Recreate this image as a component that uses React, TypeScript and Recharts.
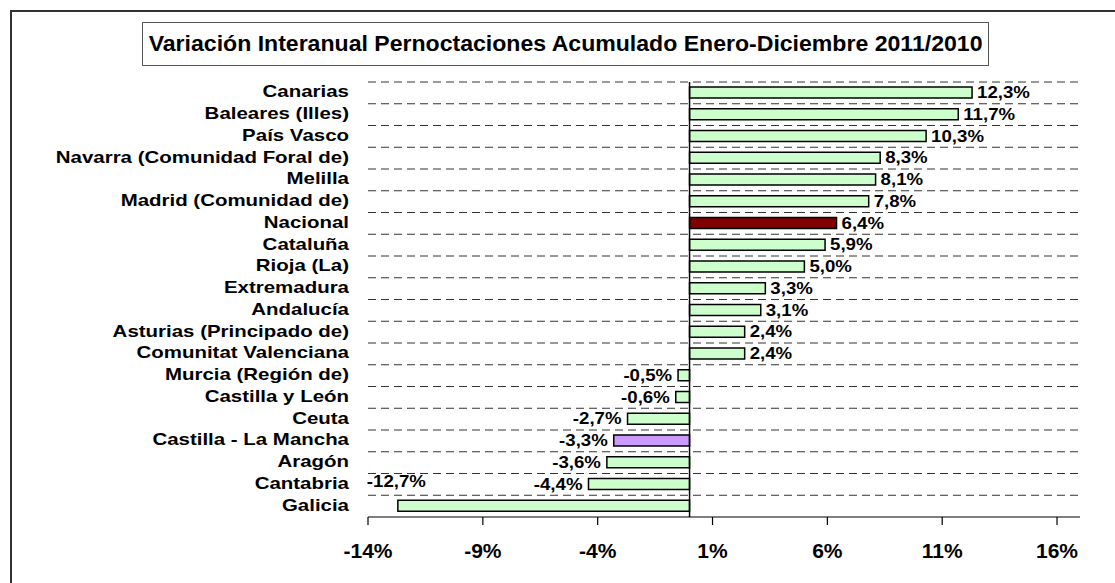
import { BarChart, Bar, XAxis, YAxis, CartesianGrid, ReferenceLine, Cell, LabelList } from 'recharts'

const regions = [
  'Canarias',
  'Baleares (Illes)',
  'País Vasco',
  'Navarra (Comunidad Foral de)',
  'Melilla',
  'Madrid (Comunidad de)',
  'Nacional',
  'Cataluña',
  'Rioja (La)',
  'Extremadura',
  'Andalucía',
  'Asturias (Principado de)',
  'Comunitat Valenciana',
  'Murcia (Región de)',
  'Castilla y León',
  'Ceuta',
  'Castilla - La Mancha',
  'Aragón',
  'Cantabria',
  'Galicia',
]

const variation = [12.3, 11.7, 10.3, 8.3, 8.1, 7.8, 6.4, 5.9, 5.0, 3.3, 3.1, 2.4, 2.4, -0.5, -0.6, -2.7, -3.3, -3.6, -4.4, -12.7]

const xTicks = [-14, -9, -4, 1, 6, 11, 16]

const highlight: Record<string, string> = {
  Nacional: '#800000',
  'Castilla - La Mancha': '#CC99FF',
}

const data = regions.map((name, i) => ({ name, value: variation[i] }))

const FONT = '"Liberation Sans", Arial, sans-serif'

const fmt = (v: number) => v.toFixed(1).replace('.', ',') + '%'

function CategoryTick({ x, y, payload }: any) {
  return (
    <g transform={`translate(${x},${y})`}>
      <text transform="scale(1.24,1)" textAnchor="end" dy={4.5} fontSize={16.5} fontWeight="bold" fontFamily={FONT} fill="#000">
        {payload.value}
      </text>
    </g>
  )
}

function PercentTick({ x, y, payload }: any) {
  return (
    <text x={x} y={y} dy={33} textAnchor="middle" fontSize={21} fontWeight="bold" fontFamily={FONT} fill="#000">
      {payload.value}%
    </text>
  )
}

function ValueLabel({ x, y, width, height, value, index }: any) {
  const left = Math.min(x, x + width)
  const right = Math.max(x, x + width)
  const cy = y + height / 2
  let tx = value >= 0 ? right + 5 : left - 6
  let ty = cy + 5.5
  let anchor = value >= 0 ? 'start' : 'end'
  // Galicia's label sits above its bar, as in the original
  if (regions[index] === 'Galicia') {
    tx = left - 31
    ty = cy - 24 + 5.5
    anchor = 'start'
  }
  return (
    <g transform={`translate(${tx},${ty})`}>
      <text transform="scale(1.13,1)" textAnchor={anchor} fontSize={16.5} fontWeight="bold" fontFamily={FONT} fill="#000">
        {fmt(value)}
      </text>
    </g>
  )
}

export default function App() {
  return (
    <div style={{ position: 'absolute', left: 0, top: 0, width: 1115, height: 583, background: '#fff', overflow: 'hidden' }}>
      <div style={{ position: 'absolute', left: 10, top: 10, width: 1200, height: 700, borderTop: '2px solid #333', borderLeft: '2px solid #333' }} />
      <div
        style={{
          position: 'absolute',
          left: 142,
          top: 22,
          width: 845,
          height: 42,
          border: '1px solid #555',
          display: 'flex',
          alignItems: 'center',
          justifyContent: 'center',
          fontFamily: FONT,
          fontWeight: 'bold',
          fontSize: 21.5,
          color: '#000',
          whiteSpace: 'nowrap',
        }}
      >
        <span style={{ display: 'inline-block', transform: 'scaleX(1.073)' }}>
          Variación Interanual Pernoctaciones Acumulado Enero-Diciembre 2011/2010
        </span>
      </div>
      <div style={{ position: 'absolute', left: 0, top: 0 }}>
        <BarChart width={1115} height={583} data={data} layout="vertical" margin={{ top: 82, right: 35, bottom: 0, left: 10 }}>
          <CartesianGrid
            vertical={false}
            stroke="#333"
            strokeDasharray="8 5"
            horizontalCoordinatesGenerator={({ offset }: any) =>
              regions.map((_, i) => offset.top + (i * offset.height) / regions.length)
            }
          />
          <XAxis
            type="number"
            domain={[-14, 17]}
            ticks={xTicks}
            allowDataOverflow
            axisLine={{ stroke: '#000', strokeWidth: 1.2 }}
            tickLine={{ stroke: '#000', strokeWidth: 1.2 }}
            tickSize={8}
            tickMargin={0}
            height={66}
            tick={<PercentTick />}
          />
          <YAxis
            type="category"
            dataKey="name"
            width={358}
            axisLine={false}
            tickLine={false}
            tickSize={0}
            tickMargin={19}
            interval={0}
            tick={<CategoryTick />}
          />
          <ReferenceLine x={0} stroke="#000" strokeWidth={1.5} />
          <Bar dataKey="value" barSize={11} stroke="#000" strokeWidth={1.5} isAnimationActive={false}>
            {data.map((d) => (
              <Cell key={d.name} fill={highlight[d.name] ?? '#CCFFCC'} />
            ))}
            <LabelList dataKey="value" content={<ValueLabel />} />
          </Bar>
        </BarChart>
      </div>
    </div>
  )
}
